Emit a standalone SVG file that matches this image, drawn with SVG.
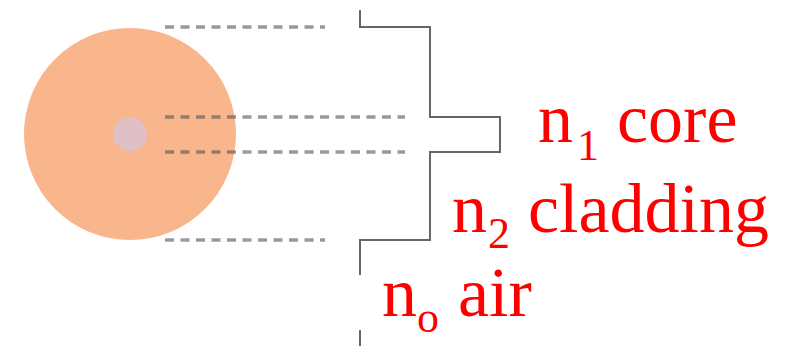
<svg xmlns="http://www.w3.org/2000/svg" width="788" height="346" viewBox="0 0 788 346">
<style>
.dash{stroke:#555;stroke-opacity:0.6;stroke-width:3.5;stroke-dasharray:9 6.5;fill:none}
.prof{stroke:#666;stroke-width:2;fill:none}
.lbl{font-family:"Liberation Serif","Times New Roman",serif;font-size:70px;fill:#ff0000}
.sub{font-size:44px}
</style>
<rect width="788" height="346" fill="#ffffff"/>
<g id="fiber">
<circle cx="130" cy="134" r="106" fill="#f9b58c"/>
<circle cx="130" cy="134" r="17" fill="#dfc0c6"/>
</g>
<g id="connectors">
<line class="dash" x1="165" y1="27" x2="325" y2="27"/>
<line class="dash" x1="165" y1="117" x2="405" y2="117"/>
<line class="dash" x1="165" y1="152" x2="405" y2="152"/>
<line class="dash" x1="165" y1="240" x2="325" y2="240"/>
</g>
<g id="profile">
<path class="prof" d="M360 10 V27 H430 V117 H500 V152 H430 V240 H360 V275"/>
<path class="prof" d="M360 330 V346"/>
</g>
<g id="label-core">
<text class="lbl" x="538" y="142">n<tspan class="sub" dx="4" dy="18">1</tspan><tspan x="617" dy="-18">core</tspan></text>
</g>
<g id="label-cladding">
<text class="lbl" x="452" y="232">n<tspan class="sub" dx="1" dy="16">2</tspan><tspan x="528" dy="-16">cladding</tspan></text>
</g>
<g id="label-air">
<text class="lbl" x="382" y="316">n<tspan class="sub" dx="0" dy="16">o</tspan><tspan x="458" dy="-16">air</tspan></text>
</g>
</svg>
